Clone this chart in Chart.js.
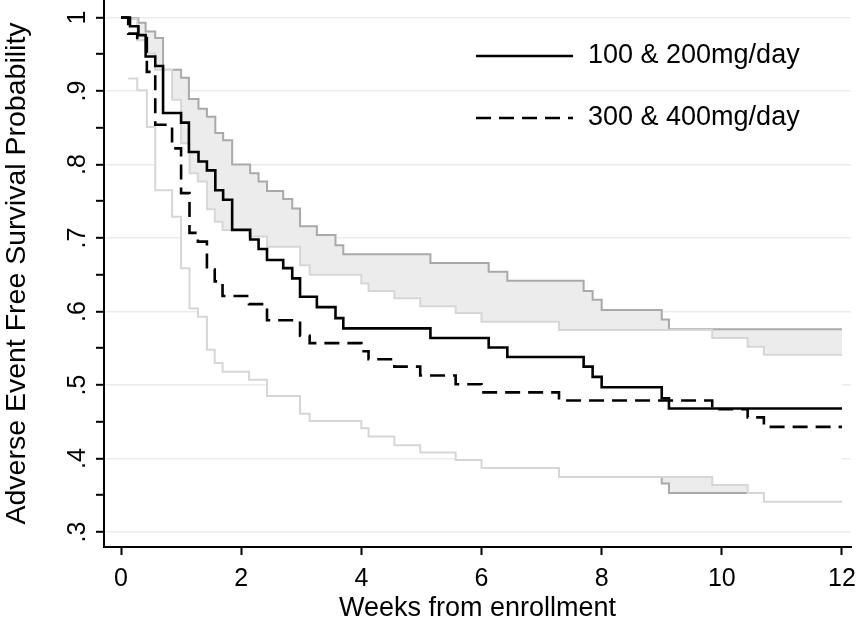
<!DOCTYPE html>
<html>
<head>
<meta charset="utf-8">
<script src="https://cdn.jsdelivr.net/npm/chart.js@4.4.1/dist/chart.umd.min.js"></script>
<style>
  html, body { margin: 0; padding: 0; background: #fff; }
</style>
</head>
<body>
<canvas id="km" width="856" height="624"></canvas>
<script>
// 100 & 200mg/day : step times (weeks) and survival
const weeksLow = [0, 0.15, 0.29, 0.41, 0.57, 0.70, 1.00, 1.13, 1.29, 1.43, 1.57, 1.70, 1.85, 2.15, 2.29, 2.43, 2.70, 2.85, 2.98, 3.26, 3.57, 3.70, 5.15, 6.12, 6.43, 7.70, 7.85, 8.00, 9.00, 9.12, 12];
const survLow  = [1, 0.988, 0.976, 0.947, 0.934, 0.870, 0.857, 0.817, 0.804, 0.792, 0.765, 0.752, 0.711, 0.698, 0.685, 0.670, 0.659, 0.645, 0.620, 0.606, 0.591, 0.577, 0.564, 0.551, 0.538, 0.525, 0.511, 0.497, 0.482, 0.468, 0.468];
// confidence band, starts at the first event (weeksLow[1])
const upperLow = [0.999, 0.993, 0.981, 0.972, 0.929, 0.918, 0.889, 0.876, 0.865, 0.843, 0.833, 0.800, 0.788, 0.777, 0.764, 0.753, 0.740, 0.716, 0.704, 0.690, 0.678, 0.666, 0.654, 0.642, 0.628, 0.616, 0.602, 0.589, 0.576, 0.576];
const lowerLow = [0.930, 0.910, 0.905, 0.855, 0.780, 0.765, 0.720, 0.705, 0.690, 0.660, 0.645, 0.600, 0.587, 0.573, 0.557, 0.545, 0.530, 0.505, 0.490, 0.475, 0.460, 0.447, 0.433, 0.420, 0.407, 0.393, 0.380, 0.366, 0.353, 0.353];

// 300 & 400mg/day
const weeksHigh = [0, 0.12, 0.27, 0.43, 0.57, 0.85, 1.00, 1.14, 1.28, 1.43, 1.56, 1.69, 2.13, 2.43, 2.98, 3.14, 4.00, 4.12, 4.55, 4.98, 5.57, 6.00, 7.29, 9.84, 10.43, 10.70, 12];
const survHigh  = [1, 0.978, 0.972, 0.926, 0.854, 0.822, 0.761, 0.707, 0.695, 0.657, 0.641, 0.621, 0.610, 0.588, 0.567, 0.557, 0.546, 0.535, 0.525, 0.513, 0.501, 0.490, 0.479, 0.467, 0.456, 0.443, 0.443];
const upperHigh = [0.998, 0.969, 0.951, 0.929, 0.888, 0.829, 0.788, 0.777, 0.739, 0.722, 0.711, 0.702, 0.688, 0.663, 0.650, 0.638, 0.628, 0.618, 0.607, 0.598, 0.586, 0.575, 0.564, 0.552, 0.541, 0.541];
const lowerHigh = [0.917, 0.901, 0.851, 0.765, 0.729, 0.659, 0.604, 0.593, 0.548, 0.530, 0.518, 0.507, 0.485, 0.461, 0.451, 0.441, 0.430, 0.418, 0.408, 0.398, 0.387, 0.375, 0.364, 0.353, 0.341, 0.341];

const seriesNames = ['100 & 200mg/day', '300 & 400mg/day'];
const yTickValues = [0.3, 0.4, 0.5, 0.6, 0.7, 0.8, 0.9, 1];
const yTickLabels = ['.3', '.4', '.5', '.6', '.7', '.8', '.9', '1'];

const FONT = "'Liberation Sans', Arial, sans-serif";

function pts(xs, ys) {
    return ys.map((y, i) => ({ x: xs[i], y: y }));
}

const ciWeeksLow = weeksLow.slice(1);
const ciWeeksHigh = weeksHigh.slice(1);

// y labels are drawn turned, like the original
const rotatedYLabels = {
    id: 'rotatedYLabels',
    afterDraw(chart) {
        const ctx = chart.ctx;
        const y = chart.scales.y;
        ctx.save();
        ctx.fillStyle = '#000';
        ctx.font = '25px ' + FONT;
        ctx.textAlign = 'center';
        ctx.textBaseline = 'middle';
        yTickValues.forEach((v, i) => {
            ctx.save();
            ctx.translate(y.left + 78, y.getPixelForValue(v));
            ctx.rotate(-Math.PI / 2);
            ctx.fillText(yTickLabels[i], 0, 0);
            ctx.restore();
        });
        ctx.restore();
    }
};

// legend inside the plot, top right
const insideLegend = {
    id: 'insideLegend',
    afterDatasetsDraw(chart, args, opts) {
        const ctx = chart.ctx;
        const area = chart.chartArea;
        ctx.save();
        opts.items.forEach((idx, row) => {
            const ds = chart.data.datasets[idx];
            const y = area.top + opts.top + row * opts.gap;
            const x0 = area.left + opts.left;
            ctx.beginPath();
            ctx.setLineDash(ds.borderDash || []);
            ctx.lineWidth = ds.borderWidth;
            ctx.strokeStyle = ds.borderColor;
            ctx.moveTo(x0, y);
            ctx.lineTo(x0 + opts.lineLen, y);
            ctx.stroke();
            ctx.setLineDash([]);
            ctx.fillStyle = '#000';
            ctx.font = opts.fontSize + 'px ' + FONT;
            ctx.textAlign = 'left';
            ctx.textBaseline = 'middle';
            ctx.fillText(ds.label, x0 + opts.lineLen + opts.textGap, y);
        });
        ctx.restore();
    }
};

const lineBase = { pointRadius: 0, stepped: 'before', tension: 0 };

new Chart(document.getElementById('km'), {
    type: 'line',
    data: {
        datasets: [
            Object.assign({}, lineBase, { label: seriesNames[0], data: pts(weeksLow, survLow), borderColor: '#000', borderWidth: 2.6, fill: false, order: 0 }),
            Object.assign({}, lineBase, { label: seriesNames[1], data: pts(weeksHigh, survHigh), borderColor: '#000', borderWidth: 2.6, borderDash: [15, 8], fill: false, order: 1 }),
            Object.assign({}, lineBase, { label: 'ci high up', data: pts(ciWeeksHigh, upperHigh), borderColor: '#d9d5d7', borderWidth: 2, fill: '+1', backgroundColor: '#ffffff', order: 3 }),
            Object.assign({}, lineBase, { label: 'ci high low', data: pts(ciWeeksHigh, lowerHigh), borderColor: '#d9d5d7', borderWidth: 2, fill: false, order: 2 }),
            Object.assign({}, lineBase, { label: 'ci low up', data: pts(ciWeeksLow, upperLow), borderColor: '#a9a9a9', borderWidth: 2, fill: '+1', backgroundColor: '#ececec', order: 5 }),
            Object.assign({}, lineBase, { label: 'ci low low', data: pts(ciWeeksLow, lowerLow), borderColor: '#a9a9a9', borderWidth: 2, fill: false, order: 4 })
        ]
    },
    options: {
        responsive: false,
        animation: false,
        layout: { padding: { top: 0, right: 5, bottom: 0, left: 0 } },
        plugins: {
            legend: { display: false },
            tooltip: { enabled: false },
            insideLegend: { items: [0, 1], left: 372, top: 56, gap: 62, lineLen: 97, textGap: 15, fontSize: 27 }
        },
        scales: {
            x: {
                type: 'linear',
                min: -0.283,
                max: 12.15,
                afterFit: s => { s.height = 77; s.paddingLeft = 0; s.paddingRight = 0; },
                ticks: { stepSize: 2, includeBounds: false, color: '#000', font: { family: FONT, size: 25 }, padding: 9, maxRotation: 0, autoSkip: false },
                grid: { drawOnChartArea: false, drawTicks: true, tickLength: 8, tickColor: '#000', tickWidth: 2 },
                border: { display: true, color: '#000', width: 2 },
                title: { display: true, text: 'Weeks from enrollment', color: '#000', font: { family: FONT, size: 27, lineHeight: 1 }, padding: { top: 0, bottom: 2 } }
            },
            y: {
                type: 'linear',
                min: 0.2796,
                max: 1.0238,
                afterFit: s => { s.width = 104; s.paddingTop = 0; s.paddingBottom = 0; },
                ticks: { stepSize: 0.05, includeBounds: false, display: false },
                grid: {
                    color: c => Math.abs(c.tick.value * 10 - Math.round(c.tick.value * 10)) < 1e-6 ? '#ebebeb' : 'rgba(0,0,0,0)',
                    lineWidth: 1.6,
                    drawTicks: true, tickLength: 8, tickColor: '#000', tickWidth: 2
                },
                border: { display: true, color: '#000', width: 2 },
                title: { display: true, text: 'Adverse Event Free Survival Probability', color: '#000', font: { family: FONT, size: 28.5, lineHeight: 1 }, padding: { top: 3, bottom: 0 } }
            }
        }
    },
    plugins: [rotatedYLabels, insideLegend]
});
</script>
</body>
</html>
